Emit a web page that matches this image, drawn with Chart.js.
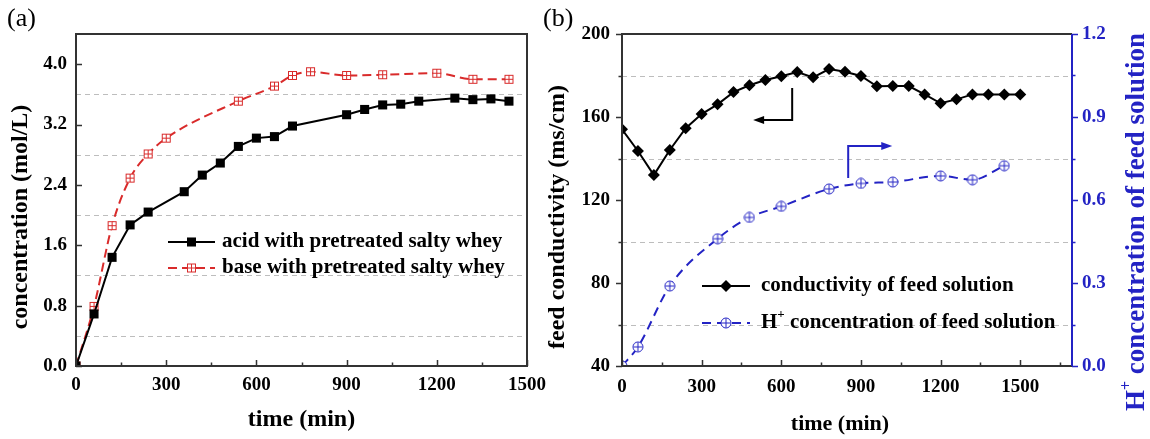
<!DOCTYPE html>
<html>
<head>
<meta charset="utf-8">
<script src="https://cdn.jsdelivr.net/npm/chart.js@4.4.1/dist/chart.umd.min.js"></script>
<style>
  body { margin: 0; background: #fff; }
  .wrap { position: absolute; top: 0; }
</style>
</head>
<body>
<div class="wrap" style="left:0"><canvas id="chartA" width="570" height="439"></canvas></div>
<div class="wrap" style="left:540px"><canvas id="chartB" width="610" height="439"></canvas></div>
<script>
// (a) acid / base concentration
const acidTime = [0, 60, 120, 180, 240, 360, 420, 480, 540, 600, 660, 720, 900, 960, 1020, 1080, 1140, 1260, 1320, 1380, 1440];
const acidConc = [0, 0.69, 1.44, 1.87, 2.04, 2.31, 2.53, 2.69, 2.91, 3.02, 3.04, 3.18, 3.33, 3.40, 3.46, 3.47, 3.51, 3.55, 3.53, 3.54, 3.51];
const baseTime = [0, 60, 120, 180, 240, 300, 540, 660, 720, 780, 900, 1020, 1200, 1320, 1440];
const baseConc = [0, 0.79, 1.86, 2.49, 2.81, 3.02, 3.51, 3.71, 3.85, 3.90, 3.85, 3.86, 3.88, 3.80, 3.80];

// (b) feed solution
const condTime = [0, 60, 120, 180, 240, 300, 360, 420, 480, 540, 600, 660, 720, 780, 840, 900, 960, 1020, 1080, 1140, 1200, 1260, 1320, 1380, 1440, 1500];
const condValue = [154.1, 143.6, 132.0, 144.1, 154.6, 161.4, 166.1, 172.0, 175.3, 177.8, 179.6, 181.7, 179.1, 183.1, 181.8, 179.8, 174.8, 174.9, 174.9, 170.9, 166.6, 168.5, 170.9, 170.9, 170.9, 170.9];
const hTime = [0, 60, 180, 360, 480, 600, 780, 900, 1020, 1200, 1320, 1440];
const hConc = [0.0, 0.069, 0.289, 0.46, 0.537, 0.577, 0.64, 0.66, 0.665, 0.687, 0.673, 0.724];

// tick labels
const timeTicksA = [0, 300, 600, 900, 1200, 1500];
const concTicks = [0, 0.8, 1.6, 2.4, 3.2, 4.0];
const timeTicksB = [0, 300, 600, 900, 1200, 1500];
const condTicks = [40, 80, 120, 160, 200];
const hTicks = [0, 0.3, 0.6, 0.9, 1.2];

const serif = '"Liberation Serif", "Times New Roman", serif';
const BLUE = '#2323c4';
const RED = '#d92b2b';
Chart.defaults.font.family = serif;
Chart.defaults.color = '#000';

const pts = (xs, ys) => xs.map((x, i) => ({ x: x, y: ys[i] }));
const minors = (ticks, max) => {
  const step = ticks[1] - ticks[0];
  return ticks.map(v => v + step / 2).filter(v => v < max - 1e-9);
};

// hollow markers with a cross inside
function marker(shape, color, size) {
  const c = document.createElement('canvas');
  c.width = c.height = size;
  const g = c.getContext('2d');
  const m = size / 2;
  g.strokeStyle = color;
  g.fillStyle = '#fff';
  g.lineWidth = 1;
  if (shape === 'box') {
    g.fillRect(1, 1, size - 2, size - 2);
    g.strokeRect(1.5, 1.5, size - 3, size - 3);
  } else {
    g.beginPath();
    g.arc(m, m, m - 1, 0, Math.PI * 2);
    g.fill();
    g.stroke();
  }
  g.beginPath();
  g.moveTo(m, 1.5); g.lineTo(m, size - 1.5);
  g.moveTo(1.5, m); g.lineTo(size - 1.5, m);
  g.stroke();
  return c;
}
const boxPlus = marker('box', RED, 11);
const circPlus = marker('circle', BLUE, 12);

function tickMarks(ctx, area, scale, side, values, len, dir) {
  ctx.beginPath();
  values.forEach(v => {
    const p = Math.round(scale.getPixelForValue(v)) + 0.5;
    if (side === 'bottom') {
      const s = dir === 'in' ? -1 : 1;
      ctx.moveTo(p, area.bottom); ctx.lineTo(p, area.bottom + s * len);
    } else if (side === 'left') {
      const s = dir === 'in' ? 1 : -1;
      ctx.moveTo(area.left, p); ctx.lineTo(area.left + s * len, p);
    } else {
      const s = dir === 'in' ? -1 : 1;
      ctx.moveTo(area.right, p); ctx.lineTo(area.right + s * len, p);
    }
  });
  ctx.stroke();
}

function dashedGrid(ctx, area, scale, values) {
  ctx.save();
  ctx.strokeStyle = '#bdbdbd';
  ctx.lineWidth = 1;
  ctx.setLineDash([5, 4]);
  ctx.beginPath();
  values.forEach(v => {
    const p = Math.round(scale.getPixelForValue(v)) + 0.5;
    ctx.moveTo(area.left, p); ctx.lineTo(area.right, p);
  });
  ctx.stroke();
  ctx.restore();
}

function legendRow(ctx, ds, x1, x2, y, tx, parts) {
  ctx.save();
  ctx.strokeStyle = ds.borderColor;
  ctx.lineWidth = ds.borderWidth;
  ctx.setLineDash(ds.borderDash || []);
  ctx.beginPath();
  ctx.moveTo(x1, y); ctx.lineTo(x2, y);
  ctx.stroke();
  ctx.setLineDash([]);
  const mx = (x1 + x2) / 2;
  if (ds.pointStyle instanceof HTMLCanvasElement) {
    ctx.drawImage(ds.pointStyle, mx - ds.pointStyle.width / 2, y - ds.pointStyle.height / 2);
  } else {
    ctx.fillStyle = ds.backgroundColor;
    ctx.beginPath();
    if (ds.pointStyle === 'rectRot') {
      const r = ds.pointRadius;
      ctx.moveTo(mx - r, y); ctx.lineTo(mx, y - r); ctx.lineTo(mx + r, y); ctx.lineTo(mx, y + r);
    } else {
      const h = ds.pointRadius * Math.SQRT1_2;
      ctx.rect(mx - h, y - h, 2 * h, 2 * h);
    }
    ctx.fill();
  }
  ctx.textBaseline = 'middle';
  drawParts(ctx, parts, tx, y, 21, '#000');
  ctx.restore();
}

// text with optional superscript pieces: [[text, isSup], ...]
function drawParts(ctx, parts, x, y, size, color) {
  ctx.fillStyle = color;
  parts.forEach(([t, sup]) => {
    ctx.font = 'bold ' + (sup ? Math.round(size * 0.6) : size) + 'px ' + serif;
    ctx.fillText(t, x, sup ? y - size * 0.38 : y);
    x += ctx.measureText(t).width;
  });
  return x;
}
function partsWidth(ctx, parts, size) {
  let w = 0;
  parts.forEach(([t, sup]) => {
    ctx.font = 'bold ' + (sup ? Math.round(size * 0.6) : size) + 'px ' + serif;
    w += ctx.measureText(t).width;
  });
  return w;
}

// axis title, centred at (x, y); rotated reads bottom-to-top
function axisTitle(ctx, parts, x, y, size, color, rotated) {
  ctx.save();
  ctx.translate(x, y);
  if (rotated) ctx.rotate(-Math.PI / 2);
  ctx.textBaseline = 'middle';
  const w = partsWidth(ctx, parts, size);
  drawParts(ctx, parts, -w / 2, 0, size, color);
  ctx.restore();
}

function arrow(ctx, chart, xs, ys, color) {
  const sx = chart.scales.x, sy = chart.scales.y;
  const px = xs.map(v => sx.getPixelForValue(v));
  const py = ys.map(v => sy.getPixelForValue(v));
  ctx.save();
  ctx.strokeStyle = color;
  ctx.fillStyle = color;
  ctx.lineWidth = 2;
  ctx.beginPath();
  ctx.moveTo(px[0], py[0]);
  const n = px.length - 1;
  const dir = Math.sign(px[n] - px[n - 1]);
  for (let i = 1; i < n; i++) ctx.lineTo(px[i], py[i]);
  ctx.lineTo(px[n] - dir * 8, py[n]);
  ctx.stroke();
  ctx.beginPath();
  ctx.moveTo(px[n], py[n]);
  ctx.lineTo(px[n] - dir * 11, py[n] - 4);
  ctx.lineTo(px[n] - dir * 11, py[n] + 4);
  ctx.closePath();
  ctx.fill();
  ctx.restore();
}

function panelLabel(ctx, text, x) {
  ctx.save();
  ctx.font = '26px ' + serif;
  ctx.fillStyle = '#000';
  ctx.textBaseline = 'middle';
  ctx.fillText(text, x, 19);
  ctx.restore();
}

const tickFont = { size: 19, weight: 'bold' };
const noEdgePad = s => { s.paddingLeft = 0; s.paddingRight = 0; };

// ---------- (a) ----------
new Chart(document.getElementById('chartA'), {
  type: 'line',
  data: {
    datasets: [
      {
        label: 'acid with pretreated salty whey',
        data: pts(acidTime, acidConc),
        borderColor: '#000', backgroundColor: '#000', borderWidth: 2,
        pointStyle: 'rect', pointRadius: 6.4, pointBorderWidth: 0, tension: 0
      },
      {
        label: 'base with pretreated salty whey',
        data: pts(baseTime, baseConc),
        borderColor: RED, backgroundColor: RED, borderWidth: 2, borderDash: [9, 5],
        pointStyle: boxPlus, pointRadius: 5.5, cubicInterpolationMode: 'monotone'
      }
    ]
  },
  options: {
    responsive: false,
    devicePixelRatio: 1,
    animation: false,
    layout: { padding: { top: 34, right: 43, left: 0, bottom: 0 } },
    plugins: { legend: { display: false }, tooltip: { enabled: false } },
    scales: {
      x: {
        type: 'linear', min: 0, max: 1500,
        afterFit: s => { s.height = 73; noEdgePad(s); },
        afterBuildTicks: s => { s.ticks = timeTicksA.map(v => ({ value: v })); },
        grid: { display: false, drawTicks: false },
        border: { display: false },
        ticks: { font: tickFont, padding: 8, maxRotation: 0, callback: v => String(v) }
      },
      y: {
        min: 0, max: 4.4,
        afterFit: s => { s.width = 76; },
        afterBuildTicks: s => { s.ticks = concTicks.map(v => ({ value: v })); },
        grid: { display: false, drawTicks: false },
        border: { display: false },
        ticks: { font: tickFont, padding: 9, callback: v => v.toFixed(1) }
      }
    }
  },
  plugins: [{
    id: 'decorA',
    beforeDatasetsDraw(chart) {
      dashedGrid(chart.ctx, chart.chartArea, chart.scales.y, minors(concTicks, 4.4));
    },
    afterDatasetsDraw(chart) {
      const ctx = chart.ctx, a = chart.chartArea;
      ctx.save();
      ctx.strokeStyle = '#333';
      ctx.lineWidth = 2;
      ctx.strokeRect(a.left, a.top, a.right - a.left, a.bottom - a.top);
      ctx.lineWidth = 1.5;
      tickMarks(ctx, a, chart.scales.x, 'bottom', timeTicksA, 6, 'in');
      tickMarks(ctx, a, chart.scales.x, 'bottom', minors(timeTicksA, 1500), 3.5, 'in');
      tickMarks(ctx, a, chart.scales.y, 'left', concTicks, 6, 'in');
      ctx.restore();

      const ds = chart.data.datasets;
      legendRow(ctx, ds[0], 168, 215, 242, 222, [[ds[0].label]]);
      legendRow(ctx, ds[1], 168, 215, 268, 222, [[ds[1].label]]);

      axisTitle(ctx, [['concentration (mol/L)']], 21, 217, 24, '#000', true);
      axisTitle(ctx, [['time (min)']], (a.left + a.right) / 2, 420, 24, '#000', false);
      panelLabel(ctx, '(a)', 7);
    }
  }]
});

// ---------- (b) ----------
new Chart(document.getElementById('chartB'), {
  type: 'line',
  data: {
    datasets: [
      {
        label: 'conductivity of feed solution',
        data: pts(condTime, condValue), yAxisID: 'y',
        borderColor: '#000', backgroundColor: '#000', borderWidth: 2,
        pointStyle: 'rectRot', pointRadius: 6, pointBorderWidth: 0, tension: 0
      },
      {
        label: 'H+ concentration of feed solution',
        data: pts(hTime, hConc), yAxisID: 'y2',
        borderColor: BLUE, backgroundColor: BLUE, borderWidth: 2, borderDash: [9, 6],
        pointStyle: circPlus, pointRadius: 6, cubicInterpolationMode: 'monotone'
      }
    ]
  },
  options: {
    responsive: false,
    devicePixelRatio: 1,
    animation: false,
    layout: { padding: { top: 34, right: 0, left: 0, bottom: 0 } },
    plugins: { legend: { display: false }, tooltip: { enabled: false } },
    scales: {
      x: {
        type: 'linear', min: 0, max: 1695,
        afterFit: s => { s.height = 73; noEdgePad(s); },
        afterBuildTicks: s => { s.ticks = timeTicksB.map(v => ({ value: v })); },
        grid: { display: false, drawTicks: false },
        border: { display: false },
        ticks: { font: tickFont, padding: 10, maxRotation: 0, callback: v => String(v) }
      },
      y: {
        position: 'left', min: 40, max: 200,
        afterFit: s => { s.width = 82; },
        afterBuildTicks: s => { s.ticks = condTicks.map(v => ({ value: v })); },
        grid: { display: false, drawTicks: false },
        border: { display: false },
        ticks: { font: tickFont, padding: 12, callback: v => String(v) }
      },
      y2: {
        position: 'right', min: 0, max: 1.2,
        afterFit: s => { s.width = 78; },
        afterBuildTicks: s => { s.ticks = hTicks.map(v => ({ value: v })); },
        grid: { display: false, drawTicks: false },
        border: { display: false },
        ticks: { font: tickFont, color: BLUE, padding: 10, callback: v => v.toFixed(1) }
      }
    }
  },
  plugins: [{
    id: 'decorB',
    beforeDatasetsDraw(chart) {
      dashedGrid(chart.ctx, chart.chartArea, chart.scales.y, minors(condTicks, 200));
    },
    afterDatasetsDraw(chart) {
      const ctx = chart.ctx, a = chart.chartArea;
      ctx.save();
      ctx.lineWidth = 2;
      ctx.strokeStyle = '#333';
      ctx.beginPath();
      ctx.moveTo(a.right, a.top); ctx.lineTo(a.left, a.top);
      ctx.lineTo(a.left, a.bottom); ctx.lineTo(a.right, a.bottom);
      ctx.stroke();
      ctx.strokeStyle = BLUE;
      ctx.beginPath();
      ctx.moveTo(a.right, a.top); ctx.lineTo(a.right, a.bottom);
      ctx.stroke();

      ctx.lineWidth = 1.5;
      ctx.strokeStyle = '#333';
      tickMarks(ctx, a, chart.scales.x, 'bottom', timeTicksB, 6, 'in');
      tickMarks(ctx, a, chart.scales.x, 'bottom', minors(timeTicksB.concat([1800]), 1695), 3.5, 'in');
      tickMarks(ctx, a, chart.scales.y, 'left', condTicks, 6, 'out');
      tickMarks(ctx, a, chart.scales.y, 'left', minors(condTicks, 200), 3.5, 'out');
      ctx.strokeStyle = BLUE;
      tickMarks(ctx, a, chart.scales.y2, 'right', hTicks, 6, 'out');
      tickMarks(ctx, a, chart.scales.y2, 'right', minors(hTicks, 1.2), 3.5, 'out');
      ctx.restore();

      arrow(ctx, chart, [641, 641, 494], [174, 158.6, 158.6], '#000');
      arrow(ctx, chart, [852, 852, 1018], [130.6, 146, 146], BLUE);

      const ds = chart.data.datasets;
      const hParts = [['H'], ['+', true], [' concentration of feed solution']];
      legendRow(ctx, ds[0], 162, 210, 286, 221, [[ds[0].label]]);
      legendRow(ctx, ds[1], 162, 210, 323, 221, hParts);

      axisTitle(ctx, [['feed conductivity (ms/cm)']], 18, 217, 24, '#000', true);
      axisTitle(ctx, [['time (min)']], 300, 424, 22, '#000', false);
      axisTitle(ctx, hParts, 597, 222, 27, BLUE, true);
      panelLabel(ctx, '(b)', 3);
    }
  }]
});
</script>
</body>
</html>
